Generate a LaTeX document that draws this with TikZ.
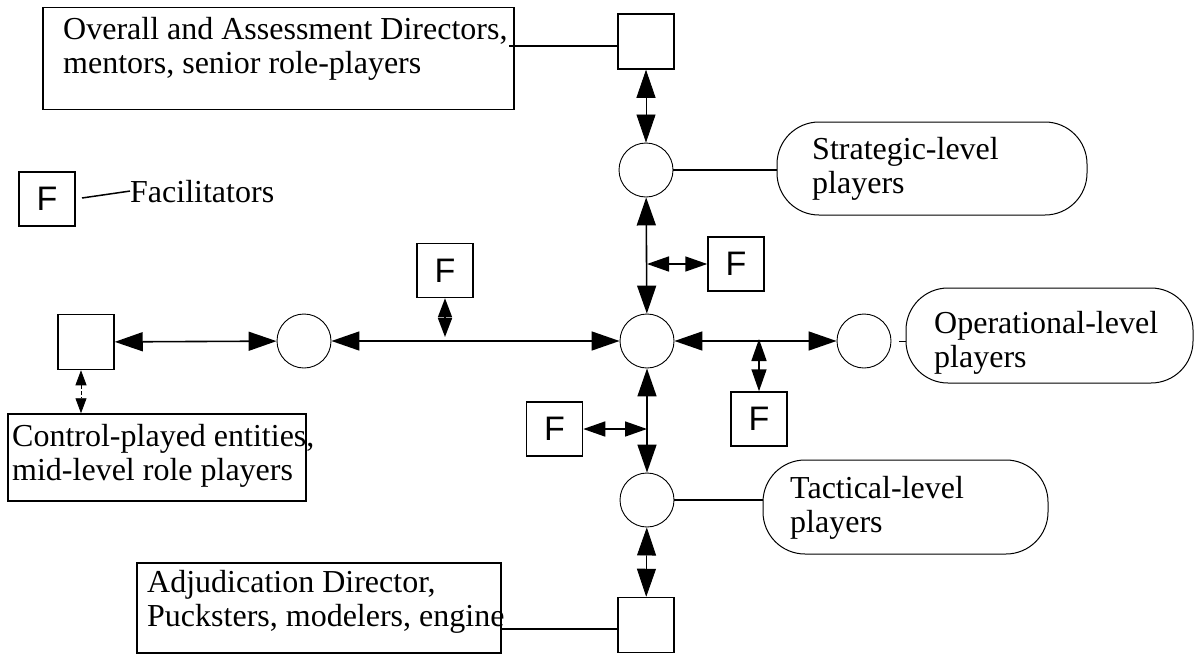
\documentclass[tikz,border=0pt]{standalone}
\usepackage{fontspec}
\setmainfont{Liberation Serif}
\newfontfamily\fsans{Liberation Sans}
\usetikzlibrary{arrows.meta}
\usetikzlibrary{shapes.geometric}

\begin{document}
\begin{tikzpicture}[x=1pt,y=-1pt,line join=miter,
    box/.style={draw,line width=1.5pt,inner sep=0pt},
    sq/.style={box,minimum width=56pt,minimum height=55pt},
    fac/.style={box,minimum width=56pt,minimum height=54pt,font=\fsans\fontsize{34}{34}\selectfont},
    dot/.style={draw,ellipse,line width=0.9pt,minimum width=54pt,minimum height=54pt,inner sep=0pt},
    pill/.style={draw,line width=1pt,rounded corners=42pt,inner sep=0pt},
    words/.style={anchor=north west,inner sep=0pt,align=left,font=\fontsize{32}{34}\selectfont},
    big/.tip={Triangle[length=28pt,width=19pt]},
    small/.tip={Triangle[length=22pt,width=15pt]},
    short/.tip={Triangle[length=19pt,width=14pt]},
    mini/.tip={Triangle[length=15pt,width=11pt]},
    both/.style={big-big,line width=1.6pt},
    slim/.style={big-big,line width=0.8pt},
    tiny/.style={small-small,line width=1.6pt}]
    \useasboundingbox (0,0) rectangle (1196,656);

    % boxes with text
    \node[box,minimum width=471pt,minimum height=102pt] (topbox) at (278.5,58.5) {};
    \node[words] (toptext) at (63,17) {Overall and Assessment Directors,\\mentors, senior role-players};
    \node[box,minimum width=298pt,minimum height=87pt] (ctrl) at (157,457.5) {};
    \node[words] (ctrltext) at (12,424) {Control-played entities,\\mid-level role players};
    \node[box,minimum width=364pt,minimum height=90pt] (adj) at (319,608) {};
    \node[words] (adjtext) at (147,570) {Adjudication Director,\\Pucksters, modelers, engine};

    % players
    \node[pill,minimum width=310pt,minimum height=93pt] (strpill) at (932,168.5) {};
    \node[words] (strtext) at (812,137) {Strategic-level\\players};
    \node[pill,minimum width=287pt,minimum height=95pt] (oppill) at (1049.5,335.5) {};
    \node[words] (optext) at (934,311) {Operational-level\\players};
    \node[pill,minimum width=285pt,minimum height=94pt] (tacpill) at (905.5,507) {};
    \node[words] (tactext) at (790,476) {Tactical-level\\players};

    % squares and circles
    \node[sq] (topsq) at (646,41.5) {};
    \node[dot] (str) at (646,170) {};
    \node[dot] (cen) at (647,341) {};
    \node[dot] (op) at (864,341) {};
    \node[dot] (tac) at (647,500) {};
    \node[sq] (botsq) at (646,625) {};
    \node[sq] (leftsq) at (86,342) {};
    \node[dot] (leftdot) at (304,341) {};

    % facilitators
    \node[fac] (legend) at (47,199) {F};
    \node[anchor=base west,inner sep=0pt,font=\fontsize{32}{34}\selectfont] (legtext) at (130,202) {Facilitators};
    \node[fac] (fN) at (736,264) {F};
    \node[fac] (fW) at (445,270.5) {F};
    \node[fac] (fE) at (759,419) {F};
    \node[fac] (fS) at (554.5,429) {F};

    % junctions on the lines
    \coordinate (jN) at (cen.north |- fN.west);
    \coordinate (jW) at (fW.south |- cen.east);
    \coordinate (jE) at (fE.north |- cen.east);
    \coordinate (jS) at (cen.south |- fS.east);
    \coordinate (tl) at (509,46);
    \coordinate (bl) at (501,629);
    \coordinate (ll) at (82,198);

    \draw[slim] (topsq) -- (str);
    \draw[both] (str) -- (cen);
    \draw[both] (leftsq) -- (leftdot);
    \draw[both] (leftdot) -- (cen);
    \draw[both] (cen) -- (op);
    \draw[both] (cen) -- (tac);
    \draw[slim] (tac) -- (botsq);
    \draw[mini-mini,line width=0.8pt,dash pattern=on 4pt off 2pt] ([xshift=-5pt]leftsq.south) -- ([xshift=-5pt]leftsq.south |- ctrl.north);

    \draw[tiny] (jN) -- (fN.west);
    \draw[short-short,line width=1.6pt] (fW.south) -- ([yshift=4pt]jW);
    \draw[tiny] ([yshift=2pt]jE) -- (fE.north);
    \draw[tiny] (fS.east) -- (jS);

    \draw[line width=1.5pt] (tl) -- (tl -| topsq.west);
    \draw[line width=1.5pt] (bl) -- (bl -| botsq.west);
    \draw[line width=1.5pt] (str.east) -- (str.east -| strpill.west);
    \draw[line width=1.5pt] (tac.east) -- (tac.east -| tacpill.west);
    \draw[line width=1pt] ([xshift=8pt]op.east) -- (op.east -| oppill.west);
    \draw[line width=1.5pt] (ll) -- (legtext.west);
\end{tikzpicture}
\end{document}
